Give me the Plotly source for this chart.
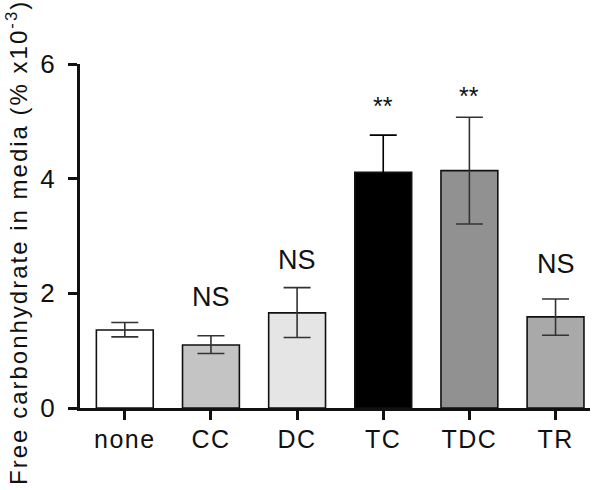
import plotly.graph_objects as go

categories = ["none", "CC", "DC", "TC", "TDC", "TR"]
means = [1.36, 1.10, 1.66, 4.11, 4.14, 1.59]
err_plus = [0.13, 0.16, 0.44, 0.65, 0.93, 0.31]
err_minus = [0.12, 0.15, 0.43, 0.65, 0.93, 0.32]
significance = ["", "NS", "NS", "**", "**", "NS"]
sig_y = [None, 1.94, 2.58, 5.27, 5.44, 2.52]

fills = ["#ffffff", "#c4c4c4", "#e5e5e5", "#000000", "#919191", "#a9a9a9"]
err_colors = ["#333333", "#333333", "#333333", "#000000", "#333333", "#333333"]

FONT = "Liberation Sans, Arial, sans-serif"

fig = go.Figure()
for i, cat in enumerate(categories):
    fig.add_trace(go.Bar(
        x=[cat], y=[means[i]],
        width=0.66,
        marker=dict(color=fills[i], line=dict(color="#111111", width=1.6)),
        error_y=dict(type="data", symmetric=False,
                     array=[err_plus[i]], arrayminus=[err_minus[i]],
                     color=err_colors[i], thickness=1.6, width=13.5),
        showlegend=False,
    ))

n_ann = 0
for i, cat in enumerate(categories):
    if significance[i]:
        fig.add_annotation(x=cat, y=sig_y[i], text=significance[i],
                           showarrow=False, xref="x", yref="y",
                           font=dict(family=FONT, size=27 if significance[i] == "NS" else 25,
                                     color="#111111"))
        n_ann += 1

title_index = n_ann
fig.add_annotation(
    text="Free carbonhydrate in media (% x10<sup>-3</sup>)",
    xref="paper", yref="paper", x=0, y=0.48, xshift=-63,
    textangle=-90, showarrow=False, xanchor="center", yanchor="middle",
    font=dict(family=FONT, size=24, color="#111111"),
)

fig.update_layout(
    width=600, height=490,
    margin=dict(l=80, r=10, t=64, b=82),
    paper_bgcolor="white", plot_bgcolor="white",
    barmode="overlay",
    font=dict(family=FONT, color="#111111"),
    xaxis=dict(
        range=[-0.52, 5.4], showline=True, linecolor="#111111", linewidth=3,
        ticks="outside", ticklen=9, tickwidth=2.5, tickcolor="#111111",
        tickfont=dict(size=25, family=FONT, color="#111111"),
        showgrid=False, zeroline=False, ticklabelstandoff=-2,
    ),
    yaxis=dict(
        range=[0, 6], tickvals=[0, 2, 4, 6], showline=True, linecolor="#111111",
        linewidth=3, ticks="outside", ticklen=9, tickwidth=2.5, tickcolor="#111111",
        tickfont=dict(size=26, family=FONT, color="#111111"),
        showgrid=False, zeroline=False, ticklabelstandoff=8,
    ),
)

post = (
    "document.body.style.margin='0';"
    "document.querySelectorAll('.xtick text').forEach(function(t){t.style.letterSpacing='1.5px';});"
    "document.querySelectorAll('.annotation[data-index=\"%d\"] text').forEach(function(t){t.style.letterSpacing='2.0px';});"
    % title_index
)

fig.write_html("out.html", post_script=post, config={"displayModeBar": False})
